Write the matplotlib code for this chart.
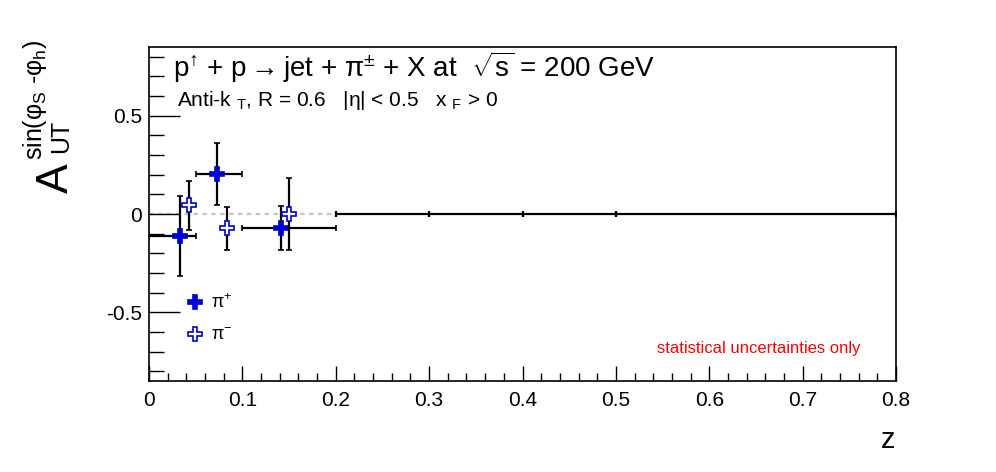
import numpy as np
import matplotlib
matplotlib.use("Agg")
import matplotlib.pyplot as plt
from matplotlib.lines import Line2D

plt.rcParams["font.family"] = ["Liberation Sans", "DejaVu Sans"]
plt.rcParams["mathtext.fontset"] = "custom"
plt.rcParams["mathtext.rm"] = "Liberation Sans"
plt.rcParams["mathtext.it"] = "Liberation Sans"
plt.rcParams["mathtext.bf"] = "Liberation Sans:bold"

# pi+ points (z, asymmetry, stat error, bin edges)
pip_z = [0.033, 0.073, 0.141]
pip_a = [-0.112, 0.204, -0.070]
pip_err = [0.203, 0.158, 0.111]
pip_lo = [0.0, 0.05, 0.10]
pip_hi = [0.05, 0.10, 0.20]

# pi- points (no horizontal error drawn)
pim_z = [0.043, 0.083, 0.150]
pim_a = [0.044, -0.073, 0.002]
pim_err = [0.126, 0.111, 0.183]

# empty bins (drawn at zero)
empty_lo = [0.2, 0.3, 0.4, 0.5]
empty_hi = [0.3, 0.4, 0.5, 0.8]
empty_val = [0.0, 0.0, 0.0, 0.0]

blue = "#0000d0"


def px(x, y):
    return x / 996, 1 - y / 472


fig = plt.figure(figsize=(9.96, 4.72), dpi=100)
ax = fig.add_axes([149 / 996, 1 - 381 / 472, 747 / 996, 334 / 472])

ax.plot([0.0, 0.2], [0.0, 0.0], color="#c4c4c4", lw=1.6, ls=(0, (2, 2)), zorder=1)

ec = np.array(empty_lo)
eh = np.array(empty_hi)
ax.errorbar((ec + eh) / 2, empty_val, xerr=[(eh - ec) / 2, (eh - ec) / 2],
            fmt="none", ecolor="black", elinewidth=1.6, capsize=2, capthick=1.6,
            zorder=2)

z = np.array(pip_z)
ax.errorbar(z, pip_a, yerr=pip_err, xerr=[z - np.array(pip_lo), np.array(pip_hi) - z],
            fmt="P", ms=10, mfc=blue, mec=blue, mew=1.2,
            ecolor="black", elinewidth=1.6, capsize=2, capthick=1.6, zorder=3)
ax.errorbar(pim_z, pim_a, yerr=pim_err,
            fmt="P", ms=10, mfc="white", mec=blue, mew=1.2,
            ecolor="black", elinewidth=1.6, capsize=2, capthick=1.6, zorder=4)

ax.set_xlim(0, 0.8)
ax.set_ylim(-0.85, 0.85)
ax.set_xticks(np.arange(0, 0.81, 0.1))
ax.set_xticks(np.arange(0, 0.81, 0.02), minor=True)
ax.set_xticklabels(["0", "0.1", "0.2", "0.3", "0.4", "0.5", "0.6", "0.7", "0.8"])
ax.set_yticks([-0.5, 0, 0.5])
ax.set_yticklabels(["-0.5", "0", "0.5"])
ax.set_yticks(np.arange(-0.8, 0.81, 0.1), minor=True)
ax.tick_params(axis="both", which="both", direction="in", top=False, right=False,
               labelsize=15, width=1)
ax.tick_params(axis="x", which="major", length=11, pad=7)
ax.tick_params(axis="x", which="minor", length=5.5)
ax.tick_params(axis="y", which="major", length=22, pad=5)
ax.tick_params(axis="y", which="minor", length=11)
for s in ax.spines.values():
    s.set_linewidth(1.2)

ax.text(0.0325, 0.91,
        "p$^{\u2191}$ + p$\\rightarrow$jet + \u03c0$^{\u00b1}$ + X at  "
        "$\\sqrt{\\mathrm{s}}$ = 200 GeV",
        transform=ax.transAxes, fontsize=20, va="baseline")
ax.text(0.0375, 0.824,
        "Anti-k ${}_{\\mathrm{T}}$, R = 0.6   |\u03b7| < 0.5   x ${}_{\\mathrm{F}}$ > 0",
        transform=ax.transAxes, fontsize=15, va="baseline")
ax.text(0.68, 0.084, "statistical uncertainties only", color="red",
        transform=ax.transAxes, fontsize=12, va="baseline")

handles = [
    Line2D([], [], ls="none", marker="P", ms=10, mfc=blue, mec=blue, mew=1.2),
    Line2D([], [], ls="none", marker="P", ms=10, mfc="white", mec=blue, mew=1.2),
]
ax.legend(handles, ["\u03c0$^{+}$", "\u03c0$^{-}$"], loc="upper left",
          bbox_to_anchor=(0.028, 0.31), frameon=False, fontsize=13,
          handlelength=1.0, handletextpad=0.4, labelspacing=0.8)

fig.text(*px(888, 440), "z", fontsize=21, ha="center", va="center")

# y title built from pieces, as ROOT places them
fig.text(*px(68, 193), "A", fontsize=32, rotation=90,
         rotation_mode="anchor", ha="left", va="baseline")
fig.text(*px(68, 153), "UT", fontsize=18, rotation=90,
         rotation_mode="anchor", ha="left", va="baseline")
fig.text(*px(42, 160), "sin(\u03c6$_{\\mathrm{S}}$ -\u03c6$_{\\mathrm{h}}$)",
         fontsize=18, rotation=90, rotation_mode="anchor", ha="left", va="baseline")

fig.savefig("out.png", dpi=100)
